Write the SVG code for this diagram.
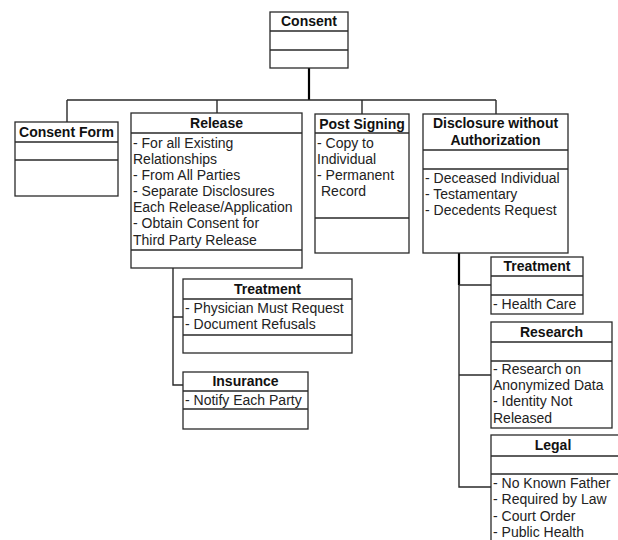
<svg xmlns="http://www.w3.org/2000/svg" width="618" height="540" viewBox="0 0 618 540">
<style>
.box{fill:#fff;stroke:#2a2a2a;stroke-width:1.3}
.div{stroke:#2a2a2a;stroke-width:1.3}
.t{font-family:"Liberation Sans",Arial,sans-serif;font-size:14px;font-weight:bold;fill:#111;text-anchor:middle}
.b{font-family:"Liberation Sans",Arial,sans-serif;font-size:14px;fill:#222}
.c{fill:none;stroke:#2a2a2a;stroke-width:1.4}
.ck{fill:none;stroke:#000;stroke-width:2.2}
</style>
<rect width="618" height="540" fill="#fff"/>
<g id="connectors">
<path class="ck" d="M309,68 V100"/>
<path class="c" d="M67,100 H496 M67,100 V122 M217,100 V113 M362,100 V114 M496,100 V114"/>
<path class="c" d="M173,268 V385 H183 M173,317 H183"/>
<path class="ck" d="M459,253 V285"/>
<path class="c" d="M459,285 V487 H491 M459,285 H491 M459,375 H491"/>
</g>
<g id="consent">
<rect class="box" x="270" y="12" width="78" height="56"/>
<path class="div" d="M270,31 H348 M270,50 H348"/>
<text class="t" x="309" y="26">Consent</text>
</g>
<g id="consent-form">
<rect class="box" x="15" y="122" width="103" height="74"/>
<path class="div" d="M15,142 H118 M15,160 H118"/>
<text class="t" x="66.5" y="137">Consent Form</text>
</g>
<g id="release">
<rect class="box" x="131" y="113" width="171" height="155"/>
<path class="div" d="M131,133 H302 M131,250 H302"/>
<text class="t" x="216.5" y="128">Release</text>
<text class="b" x="133" y="148">- For all Existing</text>
<text class="b" x="133" y="164">Relationships</text>
<text class="b" x="133" y="180">- From All Parties</text>
<text class="b" x="133" y="196">- Separate Disclosures</text>
<text class="b" x="133" y="212">Each Release/Application</text>
<text class="b" x="133" y="228">- Obtain Consent for</text>
<text class="b" x="133" y="245">Third Party Release</text>
</g>
<g id="post-signing">
<rect class="box" x="315" y="114" width="94" height="139"/>
<path class="div" d="M315,133 H409 M315,218 H409"/>
<text class="t" x="362" y="129">Post Signing</text>
<text class="b" x="317" y="148">- Copy to</text>
<text class="b" x="317" y="164">Individual</text>
<text class="b" x="317" y="180">- Permanent</text>
<text class="b" x="321" y="196">Record</text>
</g>
<g id="disclosure">
<rect class="box" x="423" y="114" width="145" height="139"/>
<path class="div" d="M423,150 H568 M423,169 H568"/>
<text class="t" x="495.5" y="128">Disclosure without</text>
<text class="t" x="495.5" y="145">Authorization</text>
<text class="b" x="425" y="183">- Deceased Individual</text>
<text class="b" x="425" y="199">- Testamentary</text>
<text class="b" x="425" y="215">- Decedents Request</text>
</g>
<g id="release-treatment">
<rect class="box" x="183" y="279" width="169" height="74"/>
<path class="div" d="M183,299 H352 M183,335 H352"/>
<text class="t" x="267.5" y="294">Treatment</text>
<text class="b" x="185" y="313">- Physician Must Request</text>
<text class="b" x="185" y="329">- Document Refusals</text>
</g>
<g id="insurance">
<rect class="box" x="183" y="372" width="125" height="57"/>
<path class="div" d="M183,391 H308 M183,409 H308"/>
<text class="t" x="245.5" y="386">Insurance</text>
<text class="b" x="185" y="405">- Notify Each Party</text>
</g>
<g id="disclosure-treatment">
<rect class="box" x="491" y="257" width="92" height="57"/>
<path class="div" d="M491,276 H583 M491,295 H583"/>
<text class="t" x="537" y="271">Treatment</text>
<text class="b" x="493" y="309">- Health Care</text>
</g>
<g id="research">
<rect class="box" x="491" y="322" width="121" height="106"/>
<path class="div" d="M491,342 H612 M491,361 H612"/>
<text class="t" x="551.5" y="337">Research</text>
<text class="b" x="493" y="374">- Research on</text>
<text class="b" x="493" y="390">Anonymized Data</text>
<text class="b" x="493" y="406">- Identity Not</text>
<text class="b" x="493" y="423">Released</text>
</g>
<g id="legal">
<rect class="box" x="491" y="435" width="130" height="120"/>
<path class="div" d="M491,456 H621 M491,474 H621"/>
<text class="t" x="553" y="450">Legal</text>
<text class="b" x="493" y="488">- No Known Father</text>
<text class="b" x="493" y="504">- Required by Law</text>
<text class="b" x="493" y="521">- Court Order</text>
<text class="b" x="493" y="537">- Public Health</text>
</g>
</svg>
